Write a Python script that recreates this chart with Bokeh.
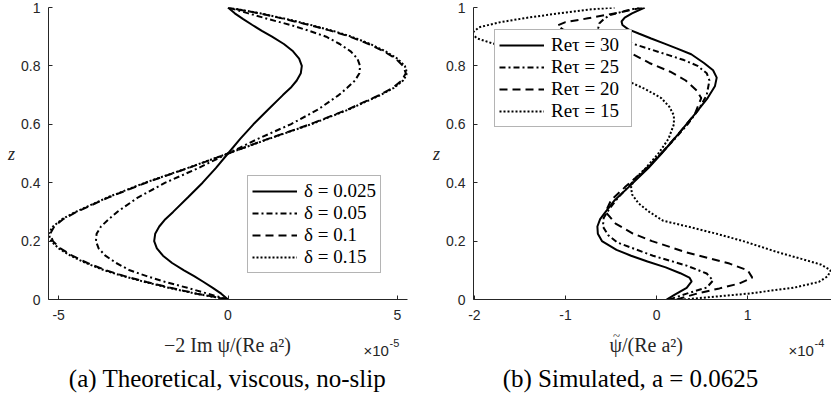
from bokeh.plotting import figure
from bokeh.models import (Range1d, FixedTicker, CustomJSTickFormatter, Label,
                          Legend, LegendItem)
from bokeh.layouts import row, column
from bokeh.embed import file_html
from bokeh.resources import INLINE

# ---------------- data (left panel, x in units of 1e-5) ----------------
z_left = [0, 0.02, 0.04, 0.06, 0.08, 0.1, 0.125, 0.15, 0.175, 0.2, 0.225, 0.25,
          0.275, 0.3, 0.35, 0.4, 0.45, 0.5, 0.55, 0.6, 0.65, 0.7, 0.725, 0.75,
          0.775, 0.8, 0.825, 0.85, 0.875, 0.9, 0.92, 0.94, 0.96, 0.98, 1.0]
delta_0025 = [0, -0.2, -0.45, -0.72, -1.0, -1.3, -1.65, -1.92, -2.1, -2.18, -2.15, -2.03,
              -1.85, -1.62, -1.18, -0.75, -0.36, 0, 0.36, 0.75, 1.18, 1.62, 1.85, 2.03,
              2.15, 2.18, 2.1, 1.92, 1.65, 1.3, 1.0, 0.72, 0.45, 0.2, 0]
delta_005 = [0, -0.6, -1.2, -1.85, -2.4, -2.9, -3.3, -3.62, -3.82, -3.9, -3.88, -3.75,
             -3.52, -3.27, -2.65, -1.85, -0.88, 0, 0.88, 1.85, 2.65, 3.27, 3.52, 3.75,
             3.88, 3.9, 3.82, 3.62, 3.3, 2.9, 2.4, 1.85, 1.2, 0.6, 0]
delta_01 = [0, -0.92, -1.7, -2.4, -3.05, -3.6, -4.15, -4.6, -4.95, -5.17, -5.25, -5.13,
            -4.87, -4.47, -3.52, -2.42, -1.18, 0, 1.18, 2.42, 3.52, 4.47, 4.87, 5.13,
            5.25, 5.17, 4.95, 4.6, 4.15, 3.6, 3.05, 2.4, 1.7, 0.92, 0]
delta_015 = [0, -0.95, -1.75, -2.45, -3.1, -3.65, -4.2, -4.65, -5.0, -5.22, -5.3, -5.17,
             -4.9, -4.5, -3.55, -2.45, -1.2, 0, 1.2, 2.45, 3.55, 4.5, 4.9, 5.17,
             5.3, 5.22, 5.0, 4.65, 4.2, 3.65, 3.1, 2.45, 1.75, 0.95, 0]
left_labels = ["δ = 0.025", "δ = 0.05", "δ = 0.1", "δ = 0.15"]

# ---------------- data (right panel, x in units of 1e-4) ----------------
re30_z = [0, 0.017, 0.04, 0.062, 0.075, 0.09, 0.11, 0.13, 0.15, 0.17, 0.2, 0.225, 0.25,
          0.275, 0.3, 0.34, 0.384, 0.45, 0.5, 0.567, 0.635, 0.69, 0.73, 0.76, 0.785,
          0.81, 0.84, 0.86, 0.877, 0.894, 0.91, 0.925, 0.94, 0.952, 0.965, 0.98, 1.0]
re30_x = [0.11, 0.2, 0.33, 0.385, 0.36, 0.26, 0.1, -0.1, -0.28, -0.44, -0.6, -0.645, -0.65,
          -0.62, -0.56, -0.46, -0.31, -0.09, 0.055, 0.24, 0.42, 0.56, 0.64, 0.66, 0.62,
          0.52, 0.38, 0.22, 0.08, -0.06, -0.19, -0.31, -0.375, -0.385, -0.35, -0.27, -0.13]
re25_z = [0, 0.02, 0.041, 0.065, 0.089, 0.116, 0.15, 0.195, 0.22, 0.25, 0.28, 0.31, 0.35,
          0.4, 0.45, 0.5, 0.55, 0.6, 0.65, 0.7, 0.75, 0.775, 0.8, 0.82, 0.836, 0.856,
          0.877, 0.9, 0.914, 0.93, 0.945, 0.96, 0.973, 0.988, 1.0]
re25_x = [0.14, 0.33, 0.55, 0.62, 0.55, 0.33, -0.04, -0.43, -0.53, -0.59, -0.58, -0.52, -0.42,
          -0.27, -0.1, 0.05, 0.2, 0.34, 0.46, 0.55, 0.58, 0.55, 0.45, 0.3, 0.14, -0.06,
          -0.27, -0.5, -0.59, -0.64, -0.63, -0.58, -0.52, -0.35, -0.19]
re20_z = [0, 0.02, 0.038, 0.055, 0.075, 0.1, 0.123, 0.161, 0.2, 0.226, 0.26, 0.3, 0.34,
          0.384, 0.45, 0.5, 0.567, 0.635, 0.69, 0.716, 0.75, 0.78, 0.81, 0.85, 0.89,
          0.91, 0.925, 0.938, 0.95, 0.962, 0.983, 1.0]
re20_x = [0.22, 0.44, 0.69, 0.91, 1.05, 1.0, 0.8, 0.33, -0.05, -0.26, -0.45, -0.56, -0.5,
          -0.35, -0.11, 0.05, 0.24, 0.42, 0.49, 0.44, 0.32, 0.15, -0.08, -0.32, -0.7,
          -0.9, -1.03, -1.09, -1.0, -0.77, -0.41, -0.15]
re15_z = [0, 0.01, 0.02, 0.04, 0.06, 0.08, 0.1, 0.12, 0.14, 0.16, 0.2, 0.225, 0.247, 0.27,
          0.3, 0.33, 0.36, 0.385, 0.41, 0.45, 0.5, 0.55, 0.6, 0.63, 0.66, 0.69, 0.72,
          0.74, 0.76, 0.79, 0.82, 0.85, 0.877, 0.894, 0.911, 0.932, 0.949, 0.966, 0.98,
          0.993, 1.0]
re15_x = [0.3, 0.65, 1.0, 1.5, 1.78, 1.88, 1.91, 1.8, 1.58, 1.35, 0.95, 0.66, 0.38, 0.07,
          -0.08, -0.2, -0.27, -0.28, -0.25, -0.12, 0.02, 0.13, 0.19, 0.19, 0.14, 0.05, -0.12,
          -0.26, -0.43, -0.75, -1.1, -1.5, -1.8, -1.97, -2.03, -1.95, -1.73, -1.4, -1.07,
          -0.74, -0.46]
right_labels = ["Reτ = 30", "Reτ = 25", "Reτ = 20", "Reτ = 15"]

y_ticks = [0, 0.2, 0.4, 0.6, 0.8, 1]
left_x_ticks = [-5, 0, 5]
right_x_ticks = [-2, -1, 0, 1]

# ---------------- styling ----------------
AX = "#262626"
SERIF = "Liberation Serif"
SANS = "Liberation Sans"
DASHES = ["solid", "6 3 2 3", "8 5", "2 2"]
LW = 2
TOP_H = 326


def make_fig(width, left_border, right_border, xr, xticks):
    p = figure(width=width, height=TOP_H, output_backend="svg", toolbar_location=None,
               x_range=Range1d(*xr), y_range=Range1d(0, 1),
               min_border_left=left_border, min_border_right=right_border,
               min_border_top=7, min_border_bottom=TOP_H - 299)
    p.outline_line_color = None
    p.grid.visible = False
    p.background_fill_color = "white"
    p.border_fill_color = "white"
    for ax, ticks in ((p.xaxis[0], xticks), (p.yaxis[0], y_ticks)):
        ax.ticker = FixedTicker(ticks=ticks)
        ax.formatter = CustomJSTickFormatter(code="return String(tick)")
        ax.axis_line_color = AX
        ax.axis_line_width = 1
        ax.major_tick_line_color = AX
        ax.major_tick_in = 4
        ax.major_tick_out = 0
        ax.minor_tick_line_color = None
        ax.major_label_text_font = SANS
        ax.major_label_text_font_size = "14px"
        ax.major_label_text_color = AX
    p.xaxis.major_label_standoff = 10
    p.yaxis.major_label_standoff = 8
    p.yaxis.axis_label = "z"
    p.yaxis.axis_label_orientation = "horizontal"
    p.yaxis.axis_label_standoff = 3
    p.yaxis.axis_label_text_font = SERIF
    p.yaxis.axis_label_text_font_size = "18px"
    p.yaxis.axis_label_text_font_style = "italic"
    p.yaxis.axis_label_text_color = AX
    return p


def add_legend(p, renderers, labels, loc, label_width):
    legend = Legend(items=[LegendItem(label=l, renderers=[r]) for l, r in zip(labels, renderers)],
                    location=loc)
    legend.border_line_color = "#6a6a6a"
    legend.border_line_width = 1
    legend.background_fill_alpha = 1
    legend.label_text_font = SERIF
    legend.label_text_font_size = "19px"
    legend.label_text_color = "black"
    legend.glyph_width = 45
    legend.glyph_height = 20
    legend.label_height = 20
    legend.label_width = label_width
    legend.spacing = 0
    legend.padding = 4
    legend.label_standoff = 7
    legend.margin = 0
    p.add_layout(legend)


# ---------------- left panel ----------------
p1 = make_fig(415, 48, 8, (-5.3, 5.3), left_x_ticks)
left_series = [delta_0025, delta_005, delta_01, delta_015]
r_left = [p1.line(x=s, y=z_left, line_color="black", line_width=LW, line_dash=d)
          for s, d in zip(left_series, DASHES)]
add_legend(p1, r_left, left_labels, (199, 26), 72)

# ---------------- right panel ----------------
p2 = make_fig(416, 58, 0, (-2.01, 1.92), right_x_ticks)
right_series = [(re30_x, re30_z), (re25_x, re25_z), (re20_x, re20_z), (re15_x, re15_z)]
r_right = [p2.line(x=x, y=z, line_color="black", line_width=LW, line_dash=d)
           for (x, z), d in zip(right_series, DASHES)]
add_legend(p2, r_right, right_labels, (21, 172), 76)

# ---------------- text strip below (coordinates = page pixels) ----------------
pt = figure(width=831, height=394 - TOP_H, output_backend="svg", toolbar_location=None,
            x_range=Range1d(0, 831), y_range=Range1d(394, TOP_H),
            x_axis_type=None, y_axis_type=None, min_border=0,
            min_border_left=0, min_border_right=0, min_border_top=0, min_border_bottom=0)
pt.outline_line_color = None
pt.grid.visible = False
pt.background_fill_color = "white"
pt.border_fill_color = "white"


def txt(x, y, text, font, size, align="left", color=AX, style="normal"):
    pt.add_layout(Label(x=x, y=y, text=text, text_font=font, text_font_size=size,
                        text_align=align, text_baseline="middle", text_color=color,
                        text_font_style=style))


txt(227, 344, "−2 Im ψ/(Re a²)", SERIF, "20px", "center")
txt(363, 350, "×10", SANS, "15px")
txt(389, 342, "-5", SANS, "11px")
txt(227, 378, "(a) Theoretical, viscous, no-slip", SERIF, "25px", "center", "black")
txt(609, 344, "ψ/(Re a²)", SERIF, "20px", "left")
txt(616, 335, "~", SERIF, "13px", "center")
txt(788, 350, "×10", SANS, "15px")
txt(814, 342, "-4", SANS, "11px")
txt(630, 378, "(b) Simulated, a = 0.0625", SERIF, "25px", "center", "black")

layout = column(row(p1, p2), pt)
open("out.html", "w").write(file_html(layout, INLINE))
